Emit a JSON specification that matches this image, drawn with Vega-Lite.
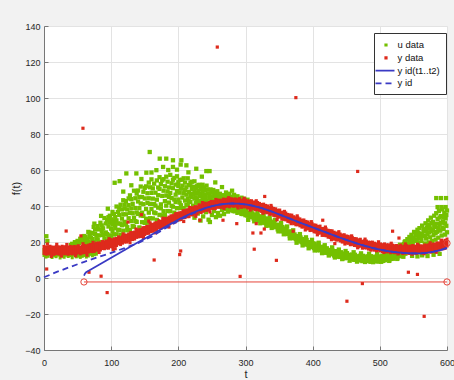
{
"$schema": "https://vega.github.io/schema/vega-lite/v6.json",
"width": 403, "height": 324,
"autosize": {"type": "none"},
"padding": {"left": 44, "top": 26, "right": 7, "bottom": 30},
"background": "#f2f2f2",
"config": {"view": {"stroke": null, "fill": "#ffffff"}, "font": "Liberation Sans"},
"datasets": {
"gc": [
{"t":40,"y":18.3},{"t":42,"y":19.0},{"t":44,"y":18.4},{"t":46,"y":19.9},{"t":48,"y":19.2},{"t":50,"y":20.6},{"t":50,"y":18.8},{"t":52,"y":19.5},{"t":54,"y":21.8},{"t":54,"y":20.2},{"t":56,"y":20.7},{"t":58,"y":22.9},{"t":58,"y":21.0},
{"t":60,"y":18.8},{"t":60,"y":23.3},{"t":62,"y":20.5},{"t":62,"y":22.8},{"t":64,"y":18.5},{"t":64,"y":21.7},{"t":66,"y":25.6},{"t":66,"y":20.3},{"t":68,"y":23.3},{"t":68,"y":25.2},{"t":70,"y":19.6},{"t":70,"y":22.5},{"t":72,"y":25.0},{"t":72,"y":21.6},{"t":74,"y":28.4},{"t":74,"y":19.8},{"t":76,"y":24.5},{"t":76,"y":26.9},{"t":78,"y":21.4},{"t":78,"y":23.5},{"t":80,"y":28.8},{"t":80,"y":21.4},{"t":82,"y":27.0},{"t":82,"y":23.7},{"t":84,"y":30.7},{"t":84,"y":20.0},{"t":86,"y":26.0},{"t":86,"y":29.2},{"t":88,"y":23.9},{"t":88,"y":27.6},{"t":90,"y":33.3},{"t":90,"y":22.0},{"t":92,"y":30.3},{"t":92,"y":25.3},{"t":94,"y":32.2},{"t":94,"y":24.4},{"t":96,"y":28.6},{"t":96,"y":33.8},{"t":96,"y":22.2},{"t":98,"y":30.7},{"t":98,"y":23.7},{"t":98,"y":34.6},
{"t":100,"y":27.4},{"t":100,"y":32.6},{"t":100,"y":22.5},{"t":102,"y":29.7},{"t":102,"y":36.7},{"t":102,"y":26.1},{"t":104,"y":31.7},{"t":104,"y":35.5},{"t":104,"y":24.2},{"t":106,"y":29.9},{"t":106,"y":33.8},{"t":106,"y":27.7},{"t":108,"y":39.7},{"t":108,"y":24.3},{"t":108,"y":32.0},{"t":110,"y":36.7},{"t":110,"y":26.8},{"t":110,"y":30.2},{"t":112,"y":39.0},{"t":112,"y":26.6},{"t":112,"y":35.1},{"t":114,"y":30.3},{"t":114,"y":40.7},{"t":114,"y":24.0},{"t":116,"y":33.0},{"t":116,"y":38.1},{"t":116,"y":29.3},{"t":118,"y":35.4},{"t":118,"y":43.2},{"t":118,"y":26.3},
{"t":120,"y":38.6},{"t":120,"y":31.2},{"t":120,"y":40.7},{"t":122,"y":29.7},{"t":122,"y":35.4},{"t":122,"y":42.7},{"t":124,"y":26.5},{"t":124,"y":38.1},{"t":124,"y":28.2},{"t":126,"y":44.2},{"t":126,"y":33.2},{"t":126,"y":40.5},{"t":128,"y":26.6},{"t":128,"y":36.2},{"t":128,"y":45.9},{"t":130,"y":31.6},{"t":130,"y":38.7},{"t":130,"y":43.8},{"t":132,"y":28.8},{"t":132,"y":36.0},{"t":132,"y":41.2},{"t":134,"y":33.5},{"t":134,"y":48.5},{"t":134,"y":28.5},{"t":136,"y":38.9},{"t":136,"y":44.3},{"t":136,"y":31.6},{"t":138,"y":36.4},{"t":138,"y":46.9},{"t":138,"y":31.2},
{"t":140,"y":42.5},{"t":140,"y":35.6},{"t":140,"y":48.6},{"t":142,"y":28.1},{"t":142,"y":38.8},{"t":142,"y":45.0},{"t":144,"y":34.7},{"t":144,"y":41.4},{"t":144,"y":50.8},{"t":146,"y":31.0},{"t":146,"y":45.0},{"t":146,"y":36.3},{"t":148,"y":47.9},{"t":148,"y":34.5},{"t":148,"y":41.0},{"t":150,"y":50.1},{"t":150,"y":30.6},{"t":150,"y":44.2},{"t":152,"y":32.9},{"t":152,"y":50.9},{"t":152,"y":38.3},{"t":154,"y":47.1},{"t":154,"y":30.7},{"t":154,"y":41.7},{"t":156,"y":53.0},{"t":156,"y":36.3},{"t":156,"y":44.3},{"t":158,"y":50.4},{"t":158,"y":33.2},{"t":158,"y":41.2},
{"t":160,"y":47.3},{"t":160,"y":38.3},{"t":160,"y":54.8},{"t":162,"y":33.1},{"t":162,"y":44.1},{"t":162,"y":49.8},{"t":164,"y":36.4},{"t":164,"y":41.1},{"t":164,"y":52.4},{"t":166,"y":36.0},{"t":166,"y":47.4},{"t":166,"y":40.2},{"t":168,"y":54.2},{"t":168,"y":32.3},{"t":168,"y":43.5},{"t":170,"y":50.3},{"t":170,"y":39.1},{"t":170,"y":46.0},{"t":172,"y":56.0},{"t":172,"y":35.1},{"t":172,"y":49.5},{"t":174,"y":40.9},{"t":174,"y":52.2},{"t":174,"y":38.7},{"t":176,"y":45.6},{"t":176,"y":54.2},{"t":176,"y":34.8},{"t":178,"y":48.5},{"t":178,"y":37.1},{"t":178,"y":54.9},
{"t":180,"y":42.7},{"t":180,"y":51.0},{"t":180,"y":34.9},{"t":182,"y":45.8},{"t":182,"y":56.3},{"t":182,"y":40.2},{"t":184,"y":48.1},{"t":184,"y":53.5},{"t":184,"y":37.2},{"t":186,"y":45.0},{"t":186,"y":50.3},{"t":186,"y":41.9},{"t":188,"y":57.3},{"t":188,"y":37.1},{"t":188,"y":47.2},{"t":190,"y":52.6},{"t":190,"y":40.1},{"t":190,"y":44.4},{"t":192,"y":54.6},{"t":192,"y":39.6},{"t":192,"y":49.9},{"t":194,"y":43.6},{"t":194,"y":55.6},{"t":194,"y":36.3},{"t":196,"y":46.3},{"t":196,"y":51.9},{"t":196,"y":42.2},{"t":198,"y":48.3},{"t":198,"y":56.5},{"t":198,"y":38.8},
{"t":200,"y":51.1},{"t":200,"y":43.6},{"t":200,"y":53.2},{"t":202,"y":41.9},{"t":202,"y":47.4},{"t":202,"y":54.5},{"t":204,"y":38.8},{"t":204,"y":49.6},{"t":204,"y":40.4},{"t":206,"y":54.6},{"t":206,"y":44.7},{"t":206,"y":51.3},{"t":208,"y":38.8},{"t":208,"y":47.1},{"t":208,"y":55.4},{"t":210,"y":43.0},{"t":210,"y":48.8},{"t":210,"y":53.0},{"t":212,"y":40.6},{"t":212,"y":46.3},{"t":212,"y":50.4},{"t":214,"y":44.1},{"t":214,"y":55.4},{"t":214,"y":40.3},{"t":216,"y":47.8},{"t":216,"y":51.6},{"t":216,"y":42.6},{"t":218,"y":45.7},{"t":218,"y":52.9},{"t":218,"y":42.2},
{"t":220,"y":49.5},{"t":220,"y":45.0},{"t":220,"y":53.5},{"t":222,"y":40.1},{"t":222,"y":46.8},{"t":222,"y":50.7},{"t":224,"y":44.1},{"t":224,"y":48.1},{"t":224,"y":53.7},{"t":226,"y":41.8},{"t":226,"y":49.8},{"t":226,"y":44.9},{"t":228,"y":51.0},{"t":228,"y":43.8},{"t":228,"y":47.3},{"t":230,"y":51.7},{"t":230,"y":41.7},{"t":230,"y":48.7},{"t":232,"y":42.8},{"t":232,"y":51.7},{"t":232,"y":45.5},{"t":234,"y":49.5},{"t":234,"y":41.8},{"t":234,"y":46.9},{"t":236,"y":51.8},{"t":236,"y":44.4},{"t":236,"y":47.9},{"t":238,"y":50.3},{"t":238,"y":43.0},{"t":238,"y":46.4},
{"t":240,"y":48.7},{"t":240,"y":45.0},{"t":242,"y":51.3},{"t":242,"y":43.0},{"t":244,"y":47.0},{"t":244,"y":49.1},{"t":246,"y":44.2},{"t":246,"y":45.8},{"t":248,"y":49.2},{"t":248,"y":44.0},{"t":250,"y":47.4},{"t":250,"y":45.3},{"t":252,"y":48.9},{"t":252,"y":43.1},{"t":254,"y":46.0},{"t":254,"y":47.6},{"t":256,"y":44.8},{"t":256,"y":46.4},{"t":258,"y":48.2},{"t":258,"y":44.0},{"t":260,"y":46.6},{"t":260,"y":45.0},{"t":262,"y":46.8},{"t":264,"y":44.5},{"t":266,"y":45.3},{"t":268,"y":46.0},{"t":270,"y":45.2},{"t":271,"y":47.5},{"t":272,"y":44.6},{"t":274,"y":45.5},{"t":276,"y":44.3},{"t":276,"y":46.8},{"t":278,"y":45.0},{"t":280,"y":44.2},{"t":282,"y":44.8},{"t":283,"y":46.2},{"t":286,"y":43.9},{"t":288,"y":45.4},{"t":290,"y":43.6},{"t":294,"y":44.6},{"t":298,"y":44.0},{"t":303,"y":43.5},
{"t":224,"y":33.5},{"t":229,"y":35.8},{"t":233,"y":31.9},{"t":237,"y":34.2},{"t":241,"y":36.6},{"t":245,"y":32.4},{"t":247,"y":31.1},{"t":250,"y":35.0},{"t":253,"y":37.2},{"t":256,"y":33.8},{"t":259,"y":36.1},{"t":262,"y":34.6},{"t":265,"y":37.8},{"t":268,"y":35.5},{"t":271,"y":38.2},{"t":274,"y":36.9},{"t":277,"y":37.6},{"t":281,"y":38.9},{"t":284,"y":37.1},
{"t":157.4,"y":70.0},{"t":172.3,"y":66.3},{"t":182,"y":66.3},{"t":192,"y":65.4},{"t":204.5,"y":65.4},{"t":203.5,"y":63.0},{"t":122.6,"y":58.1},{"t":137.5,"y":58.1},{"t":152.4,"y":58.5},{"t":177.3,"y":61.7},{"t":192,"y":61.7},{"t":212,"y":62.6},{"t":226.7,"y":60.7},{"t":241.7,"y":59.4},{"t":246.5,"y":59.4},{"t":105.2,"y":52.9},{"t":112.6,"y":53.8},{"t":167.3,"y":59.9},{"t":3.5,"y":23.2},{"t":5,"y":20.5},
{"t":130,"y":51.5},{"t":145,"y":55.0},{"t":160,"y":58.6},{"t":185,"y":60.0},{"t":198,"y":60.2},{"t":215,"y":58.7},{"t":235,"y":56.3},{"t":255,"y":53.1},{"t":265,"y":50.5},{"t":280,"y":48.5},{"t":95,"y":38.5},{"t":85,"y":34.5},{"t":75,"y":30.2},{"t":118,"y":48.0},
{"t":300,"y":38.6},{"t":304,"y":32.3},{"t":309,"y":37.5},{"t":313,"y":31.5},{"t":318,"y":36.2},{"t":322,"y":30.4},{"t":327,"y":35.0},{"t":331,"y":29.0},{"t":336,"y":33.6},{"t":339,"y":27.8},{"t":344,"y":32.3},{"t":349,"y":25.9},{"t":353,"y":30.6},{"t":357,"y":24.3},{"t":362,"y":28.6},{"t":366,"y":22.0},{"t":371,"y":26.5},{"t":376,"y":19.6},{"t":381,"y":24.4},{"t":385,"y":18.1},{"t":390,"y":22.6},{"t":394,"y":16.5},{"t":399,"y":21.2},{"t":403,"y":15.3},{"t":409,"y":19.6},{"t":414,"y":13.8},{"t":418,"y":18.2},{"t":424,"y":12.5},{"t":429,"y":17.0},{"t":433,"y":11.4},{"t":439,"y":15.8},{"t":444,"y":10.5},{"t":449,"y":15.0},{"t":455,"y":9.6},{"t":461,"y":14.3},{"t":466,"y":9.1},{"t":472,"y":13.7},{"t":478,"y":8.9},{"t":484,"y":13.5},{"t":490,"y":8.8},{"t":496,"y":13.3},{"t":502,"y":9.0},{"t":508,"y":13.9},{"t":514,"y":9.5},{"t":520,"y":15.0},{"t":526,"y":10.6},{"t":531,"y":16.5},{"t":535,"y":11.8},{"t":530,"y":18.5},{"t":537,"y":20.0},{"t":533,"y":17.6},
{"t":536,"y":18.9},{"t":538,"y":20.4},{"t":540,"y":19.3},{"t":541,"y":21.6},{"t":543,"y":18.7},{"t":544,"y":22.8},{"t":546,"y":20.1},{"t":547,"y":24.0},{"t":549,"y":19.0},{"t":550,"y":22.3},{"t":551,"y":25.6},{"t":553,"y":20.8},{"t":554,"y":23.9},{"t":556,"y":26.8},{"t":557,"y":19.5},{"t":558,"y":22.0},{"t":559,"y":27.7},{"t":561,"y":24.5},{"t":562,"y":20.6},{"t":563,"y":29.1},{"t":565,"y":23.1},{"t":566,"y":26.3},{"t":567,"y":19.2},{"t":568,"y":30.4},{"t":569,"y":21.9},{"t":570,"y":27.8},{"t":571,"y":24.2},{"t":572,"y":32.0},{"t":573,"y":19.8},{"t":574,"y":29.3},{"t":575,"y":22.6},{"t":576,"y":33.5},{"t":577,"y":26.1},{"t":578,"y":20.5},{"t":579,"y":31.2},{"t":580,"y":23.9},{"t":581,"y":34.6},{"t":582,"y":28.4},{"t":583,"y":21.3},{"t":584,"y":36.0},{"t":585,"y":25.7},{"t":586,"y":32.8},{"t":587,"y":22.4},{"t":588,"y":37.2},{"t":589,"y":29.9},{"t":590,"y":26.3},{"t":591,"y":34.4},{"t":592,"y":23.6},{"t":593,"y":38.1},{"t":594,"y":31.5},{"t":595,"y":27.2},{"t":596,"y":36.2},{"t":597,"y":24.1},{"t":598,"y":33.1},{"t":599,"y":29.0},{"t":600,"y":37.5},{"t":600,"y":25.4},{"t":599,"y":35.0},{"t":597,"y":30.4},{"t":595,"y":33.9},{"t":593,"y":28.0},{"t":591,"y":30.7},{"t":589,"y":33.6},{"t":587,"y":27.8},{"t":585,"y":30.2},{"t":583,"y":25.0},{"t":581,"y":29.0},{"t":579,"y":26.7},{"t":577,"y":30.5},{"t":575,"y":27.4},{"t":573,"y":25.3},{"t":571,"y":29.6},{"t":569,"y":25.9},{"t":567,"y":23.4},{"t":565,"y":27.1},{"t":563,"y":24.7},{"t":561,"y":22.3},{"t":559,"y":23.9},{"t":557,"y":25.0},{"t":555,"y":21.3},{"t":553,"y":23.5},{"t":551,"y":20.7},{"t":549,"y":21.8},{"t":547,"y":18.6},{"t":545,"y":20.5},
{"t":584,"y":44.4},{"t":591,"y":44.4},{"t":598.5,"y":44.4},{"t":586,"y":39.4},{"t":592,"y":39.4},{"t":598,"y":39.4},{"t":548,"y":12.3},{"t":556,"y":12.0},{"t":563,"y":12.6},{"t":571,"y":12.2},{"t":580,"y":12.9},{"t":589,"y":13.4}
],
"gb": [
{"t":0,"y":14.2},{"t":3,"y":13.3},{"t":6,"y":13.7},{"t":9,"y":14.6},{"t":12,"y":13.0},{"t":15,"y":14.0},{"t":18,"y":13.5},{"t":21,"y":14.4},{"t":24,"y":12.8},{"t":27,"y":13.9},{"t":30,"y":13.2},{"t":33,"y":14.3},{"t":36,"y":13.6},{"t":39,"y":14.1},{"t":42,"y":12.9},{"t":45,"y":14.5},{"t":48,"y":13.4},{"t":51,"y":13.8},{"t":54,"y":13.1},{"t":57,"y":13.7},{"t":60,"y":14.2},{"t":63,"y":13.3},{"t":66,"y":13.9},{"t":69,"y":14.8},{"t":72,"y":14.0},{"t":75,"y":14.6},{"t":78,"y":14.9},
{"t":263,"y":40.9},{"t":266,"y":40.2},{"t":269,"y":40.1},{"t":272,"y":40.1},{"t":275,"y":39.1},{"t":278,"y":39.1},{"t":281,"y":38.5},{"t":284,"y":38.5},{"t":287,"y":37.5},{"t":290,"y":37.6},{"t":293,"y":36.9},{"t":296,"y":36.8},{"t":299,"y":36.2},{"t":302,"y":35.9},{"t":305,"y":35.0},{"t":308,"y":35.2},{"t":311,"y":34.4},{"t":314,"y":34.0},{"t":317,"y":33.4},{"t":320,"y":33.1},{"t":323,"y":32.9},{"t":326,"y":32.0},{"t":329,"y":31.8},{"t":332,"y":31.7},{"t":335,"y":30.5},{"t":338,"y":30.4},{"t":341,"y":29.7},{"t":344,"y":29.5},{"t":347,"y":28.3},{"t":350,"y":28.2},{"t":353,"y":27.3},{"t":356,"y":27.0},{"t":359,"y":26.2},{"t":362,"y":25.7},{"t":365,"y":24.6},{"t":368,"y":24.5},{"t":371,"y":23.4},{"t":374,"y":22.9},{"t":377,"y":22.0},{"t":380,"y":21.6},{"t":383,"y":21.2},{"t":386,"y":20.3},{"t":389,"y":19.9},{"t":392,"y":19.8},{"t":395,"y":18.6},{"t":398,"y":18.5},{"t":401,"y":17.9},{"t":404,"y":17.8},{"t":407,"y":16.7},{"t":410,"y":16.7},{"t":413,"y":16.0},{"t":416,"y":16.0},{"t":419,"y":15.3},{"t":422,"y":15.2},{"t":425,"y":14.3},{"t":428,"y":14.5},{"t":431,"y":13.8},{"t":434,"y":13.6},{"t":437,"y":13.1},{"t":440,"y":13.0},{"t":443,"y":13.0},{"t":446,"y":12.3},{"t":449,"y":12.3},{"t":452,"y":12.5},{"t":455,"y":11.6},{"t":458,"y":11.7},{"t":461,"y":11.4},{"t":464,"y":11.6},{"t":467,"y":10.8},{"t":470,"y":11.1},{"t":473,"y":10.7},{"t":476,"y":11.0},{"t":479,"y":10.6},{"t":482,"y":10.8},{"t":485,"y":10.3},{"t":488,"y":10.8},{"t":491,"y":10.4},{"t":494,"y":10.6},{"t":497,"y":10.4},{"t":500,"y":10.7},{"t":503,"y":11.1},{"t":506,"y":10.8},{"t":509,"y":11.2},{"t":512,"y":11.8},{"t":515,"y":11.3},{"t":518,"y":11.9},{"t":521,"y":12.0},{"t":524,"y":12.8},{"t":527,"y":12.5},{"t":530,"y":13.4},{"t":533,"y":13.6},{"t":536,"y":14.5},{"t":539,"y":14.8}
],
"rb": [
{"t":0,"y":15.6},{"t":3,"y":15.2},{"t":6,"y":15.4},{"t":9,"y":15.7},{"t":12,"y":15.3},{"t":15,"y":15.1},{"t":18,"y":15.6},{"t":21,"y":15.4},{"t":24,"y":15.2},{"t":27,"y":15.7},{"t":30,"y":15.4},{"t":33,"y":15.5},{"t":36,"y":15.1},{"t":39,"y":15.6},{"t":42,"y":15.3},{"t":45,"y":15.6},{"t":48,"y":15.4},{"t":51,"y":16.0},{"t":54,"y":15.3},{"t":57,"y":15.8},
{"t":60,"y":16.1},{"t":63,"y":15.9},{"t":66,"y":16.3},{"t":69,"y":16.7},{"t":72,"y":16.6},{"t":75,"y":16.7},{"t":78,"y":17.4},{"t":81,"y":17.5},{"t":84,"y":17.5},{"t":87,"y":18.3},{"t":90,"y":18.2},{"t":93,"y":18.6},{"t":96,"y":18.5},{"t":99,"y":19.3},{"t":102,"y":19.3},{"t":105,"y":19.9},{"t":108,"y":20.0},{"t":111,"y":20.9},{"t":114,"y":20.5},{"t":117,"y":21.3},
{"t":120,"y":21.9},{"t":123,"y":21.9},{"t":126,"y":22.5},{"t":129,"y":23.3},{"t":132,"y":23.3},{"t":135,"y":23.6},{"t":138,"y":24.5},{"t":141,"y":24.8},{"t":144,"y":25.0},{"t":147,"y":26.0},{"t":150,"y":26.1},{"t":153,"y":26.7},{"t":156,"y":26.8},{"t":159,"y":27.7},{"t":162,"y":27.9},{"t":165,"y":28.6},{"t":168,"y":28.8},{"t":171,"y":29.9},{"t":174,"y":29.5},{"t":177,"y":30.4},
{"t":180,"y":31.1},{"t":183,"y":31.2},{"t":186,"y":31.9},{"t":189,"y":32.6},{"t":192,"y":32.7},{"t":195,"y":33.0},{"t":198,"y":33.9},{"t":201,"y":34.2},{"t":204,"y":34.4},{"t":207,"y":35.4},{"t":210,"y":35.5},{"t":213,"y":36.0},{"t":216,"y":36.0},{"t":219,"y":37.0},{"t":222,"y":37.1},{"t":225,"y":37.7},{"t":228,"y":37.7},{"t":231,"y":38.7},{"t":234,"y":38.3},{"t":237,"y":39.0},
{"t":240,"y":39.6},{"t":243,"y":39.5},{"t":246,"y":40.0},{"t":249,"y":40.6},{"t":252,"y":40.5},{"t":255,"y":40.5},{"t":258,"y":41.2},{"t":261,"y":41.3},{"t":264,"y":41.2},{"t":267,"y":41.9},{"t":270,"y":41.7},{"t":273,"y":41.9},{"t":276,"y":41.5},{"t":279,"y":42.1},{"t":282,"y":41.8},{"t":285,"y":42.0},{"t":288,"y":41.6},{"t":291,"y":42.2},{"t":294,"y":41.2},{"t":297,"y":41.5},
{"t":300,"y":41.5},{"t":303,"y":40.9},{"t":306,"y":40.9},{"t":309,"y":41.0},{"t":312,"y":40.3},{"t":315,"y":39.8},{"t":318,"y":40.0},{"t":321,"y":39.5},{"t":324,"y":38.9},{"t":327,"y":39.1},{"t":330,"y":38.4},{"t":333,"y":38.1},{"t":336,"y":37.3},{"t":339,"y":37.4},{"t":342,"y":36.7},{"t":345,"y":36.5},{"t":348,"y":35.7},{"t":351,"y":35.8},{"t":354,"y":34.6},{"t":357,"y":34.5},
{"t":360,"y":34.2},{"t":363,"y":33.4},{"t":366,"y":33.1},{"t":369,"y":33.0},{"t":372,"y":32.1},{"t":375,"y":31.5},{"t":378,"y":31.5},{"t":381,"y":30.9},{"t":384,"y":30.2},{"t":387,"y":30.3},{"t":390,"y":29.5},{"t":393,"y":29.2},{"t":396,"y":28.3},{"t":399,"y":28.4},{"t":402,"y":27.6},{"t":405,"y":27.4},{"t":408,"y":26.7},{"t":411,"y":26.9},{"t":414,"y":25.6},{"t":417,"y":25.6},
{"t":420,"y":25.4},{"t":423,"y":24.6},{"t":426,"y":24.4},{"t":429,"y":24.3},{"t":432,"y":23.5},{"t":435,"y":23.0},{"t":438,"y":23.1},{"t":441,"y":22.5},{"t":444,"y":21.9},{"t":447,"y":22.1},{"t":450,"y":21.4},{"t":453,"y":21.2},{"t":456,"y":20.4},{"t":459,"y":20.6},{"t":462,"y":20.0},{"t":465,"y":19.9},{"t":468,"y":19.3},{"t":471,"y":19.6},{"t":474,"y":18.5},{"t":477,"y":18.7},
{"t":480,"y":18.6},{"t":483,"y":18.0},{"t":486,"y":17.9},{"t":489,"y":18.0},{"t":492,"y":17.4},{"t":495,"y":17.0},{"t":498,"y":17.3},{"t":501,"y":17.0},{"t":504,"y":16.6},{"t":507,"y":17.0},{"t":510,"y":16.5},{"t":513,"y":16.5},{"t":516,"y":16.0},{"t":519,"y":16.3},{"t":522,"y":16.0},{"t":525,"y":16.1},{"t":528,"y":15.7},{"t":531,"y":16.3},{"t":534,"y":15.5},{"t":537,"y":15.8},
{"t":540,"y":16.0},{"t":543,"y":15.6},{"t":546,"y":15.8},{"t":549,"y":16.1},{"t":552,"y":15.7},{"t":555,"y":15.6},{"t":558,"y":16.1},{"t":561,"y":15.9},{"t":564,"y":15.8},{"t":567,"y":16.4},{"t":570,"y":16.2},{"t":573,"y":16.5},{"t":576,"y":16.3},{"t":579,"y":16.9},{"t":582,"y":16.9},{"t":585,"y":17.5},{"t":588,"y":17.5},{"t":591,"y":18.5},{"t":594,"y":18.1},{"t":597,"y":19.0},{"t":600,"y":19.7}
],
"rs": [
{"t":5,"y":18.9},{"t":11,"y":12.0},{"t":19,"y":18.7},{"t":26,"y":12.2},{"t":34,"y":18.6},{"t":47,"y":12.4},{"t":58,"y":19.0},{"t":64,"y":12.7},{"t":73,"y":19.8},{"t":82,"y":14.2},{"t":97,"y":21.8},{"t":106,"y":16.3},{"t":103,"y":15.8},{"t":118,"y":24.5},{"t":128,"y":19.6},{"t":137,"y":27.2},{"t":148,"y":22.5},{"t":158,"y":30.6},{"t":166,"y":25.1},{"t":177,"y":33.2},{"t":186,"y":28.3},{"t":196,"y":35.7},{"t":208,"y":31.4},{"t":217,"y":39.2},{"t":226,"y":34.3},{"t":236,"y":41.9},{"t":247,"y":36.7},{"t":256,"y":43.6},{"t":268,"y":38.7},{"t":275,"y":44.6},{"t":289,"y":38.9},{"t":298,"y":44.3},{"t":307,"y":37.8},{"t":316,"y":42.9},{"t":326,"y":36.0},{"t":338,"y":40.3},{"t":347,"y":32.4},{"t":358,"y":37.0},{"t":368,"y":30.2},{"t":377,"y":34.5},{"t":389,"y":26.7},{"t":398,"y":31.3},{"t":407,"y":24.0},{"t":419,"y":28.3},{"t":428,"y":21.3},{"t":439,"y":25.7},{"t":448,"y":18.9},{"t":458,"y":23.4},{"t":467,"y":16.8},{"t":478,"y":21.6},{"t":487,"y":15.5},{"t":498,"y":20.1},{"t":506,"y":14.2},{"t":517,"y":19.3},{"t":527,"y":13.4},{"t":538,"y":18.9},{"t":548,"y":13.2},{"t":556,"y":18.7},{"t":566,"y":13.5},{"t":575,"y":19.5},{"t":584,"y":14.3},{"t":592,"y":21.0},{"t":597,"y":16.5},
{"t":58,"y":83.2},{"t":258,"y":128.3},{"t":375,"y":100.2},{"t":467,"y":59.2},{"t":33,"y":26.1},{"t":4,"y":5.0},{"t":67,"y":3.2},{"t":85,"y":1.0},{"t":94,"y":-8.1},{"t":164,"y":10.0},{"t":202,"y":13.0},{"t":203.5,"y":15.0},{"t":55,"y":23.4},{"t":125,"y":31.1},{"t":145,"y":35.2},{"t":156,"y":31.6},{"t":266.5,"y":32.1},{"t":232,"y":32.1},{"t":287,"y":30.2},{"t":316,"y":30.2},{"t":311,"y":25.0},{"t":323,"y":25.0},{"t":328,"y":27.2},{"t":313,"y":16.0},{"t":328.6,"y":45.3},{"t":346,"y":9.8},{"t":292,"y":0.9},{"t":451,"y":-12.9},{"t":474,"y":-3.1},{"t":519,"y":26.0},{"t":528.5,"y":22.2},{"t":542.5,"y":3.2},{"t":556,"y":2.0},{"t":566,"y":-21.3},{"t":371,"y":26.0},{"t":415,"y":32.1},{"t":433,"y":19.1}
],
"fit": [
{"t":59.6,"y":1.3},{"t":61,"y":2.5},{"t":63,"y":3.3},{"t":80,"y":6.9},{"t":100,"y":11.2},{"t":120,"y":15.5},{"t":140,"y":19.8},{"t":160,"y":24.0},{"t":180,"y":28.3},{"t":200,"y":32.4},{"t":210,"y":34.3},{"t":220,"y":36.0},{"t":230,"y":37.5},{"t":240,"y":38.8},{"t":250,"y":39.9},{"t":260,"y":40.7},{"t":270,"y":41.2},{"t":280,"y":41.4},{"t":290,"y":41.3},{"t":300,"y":40.9},{"t":310,"y":40.2},{"t":320,"y":39.3},{"t":330,"y":38.1},{"t":340,"y":36.8},{"t":350,"y":35.3},{"t":360,"y":33.9},{"t":370,"y":32.4},{"t":380,"y":30.9},{"t":390,"y":29.5},{"t":400,"y":28.1},{"t":410,"y":26.7},{"t":420,"y":25.3},{"t":430,"y":23.9},{"t":440,"y":22.5},{"t":450,"y":21.2},{"t":460,"y":19.9},{"t":470,"y":18.7},{"t":480,"y":17.6},{"t":490,"y":16.6},{"t":500,"y":15.8},{"t":510,"y":15.1},{"t":520,"y":14.5},{"t":530,"y":14.1},{"t":540,"y":13.8},{"t":550,"y":13.7},{"t":560,"y":13.7},{"t":570,"y":14.0},{"t":580,"y":14.6},{"t":590,"y":15.5},{"t":600,"y":16.7}
],
"sim": [
{"t":0,"y":0.4},{"t":20,"y":3.5},{"t":40,"y":6.3},{"t":60,"y":9.0},{"t":80,"y":11.5},{"t":100,"y":14.0},{"t":120,"y":16.6},{"t":140,"y":19.4},{"t":160,"y":23.0},{"t":180,"y":27.5},{"t":200,"y":31.8},{"t":220,"y":35.6},{"t":240,"y":38.8},{"t":250,"y":39.9},{"t":260,"y":40.7},{"t":270,"y":41.2},{"t":280,"y":41.4},{"t":290,"y":41.3},{"t":300,"y":40.9},{"t":310,"y":40.2},{"t":320,"y":39.3},{"t":330,"y":38.1},{"t":340,"y":36.8},{"t":350,"y":35.3},{"t":360,"y":33.9},{"t":370,"y":32.4},{"t":380,"y":30.9},{"t":390,"y":29.5},{"t":400,"y":28.1},{"t":410,"y":26.7},{"t":420,"y":25.3},{"t":430,"y":23.9},{"t":440,"y":22.5},{"t":450,"y":21.2},{"t":460,"y":19.9},{"t":470,"y":18.7},{"t":480,"y":17.6},{"t":490,"y":16.6},{"t":500,"y":15.8},{"t":510,"y":15.1},{"t":520,"y":14.5},{"t":530,"y":14.1},{"t":540,"y":13.8},{"t":550,"y":13.7},{"t":560,"y":13.7},{"t":570,"y":14.0},{"t":580,"y":14.6},{"t":590,"y":15.5},{"t":600,"y":16.7}
],
"ref": [{"t":59.5,"y":-2.2},{"t":600,"y":-2.2}],
"ends": [{"t":59.5,"y":-2.2},{"t":600,"y":-2.2},{"t":600,"y":19.3}]
},
"encoding": {
"x": {"field": "t", "type": "quantitative", "scale": {"domain": [0, 600], "nice": false, "zero": false},
 "axis": {"title": "t", "values": [0,100,200,300,400,500,600], "grid": true, "gridColor": "#e3e3e3", "domainColor": "#777777", "tickColor": "#777777", "tickSize": -4, "labelPadding": 12, "labelFontSize": 9, "labelColor": "#262626", "titleFontSize": 11, "titleFontWeight": "normal", "titleColor": "#262626", "titlePadding": 1, "labelFlush": false, "labelOverlap": false}},
"y": {"field": "y", "type": "quantitative", "scale": {"domain": [-40, 140], "nice": false, "zero": false},
 "axis": {"title": "f(t)", "values": [-40,-20,0,20,40,60,80,100,120,140], "grid": true, "gridColor": "#e3e3e3", "domainColor": "#777777", "tickColor": "#777777", "tickSize": -4, "labelPadding": 8, "labelFontSize": 9, "labelColor": "#262626", "titleFontSize": 11, "titleFontWeight": "normal", "titleColor": "#262626", "titlePadding": 3, "labelFlush": false, "labelOverlap": false}}
},
"layer": [
{"data": {"name": "gc"}, "mark": {"type": "point", "filled": true, "size": 943, "opacity": 1, "strokeWidth": 0},
 "encoding": {
  "color": {"datum": "u data", "type": "nominal",
   "scale": {"domain": ["u data", "y data", "y id(t1..t2)", "y id"], "range": ["#74c000", "#de2a1c", "#3a3ac4", "#3a3ac4"]},
   "legend": {"title": null, "orient": "none", "legendX": 330, "legendY": 7, "padding": 6, "strokeColor": "#333333", "fillColor": "#ffffff", "cornerRadius": 0,
    "labelFont": "Liberation Sans", "labelFontSize": 9.5, "labelColor": "#111111", "symbolSize": 100, "symbolStrokeWidth": 1.8, "labelOffset": 5.5, "rowPadding": 1.8}},
  "shape": {"datum": "u data", "type": "nominal",
   "scale": {"domain": ["u data", "y data", "y id(t1..t2)", "y id"], "range": ["M-0.14,-0.14L0.14,-0.14L0.14,0.14L-0.14,0.14Z", "M-0.14,-0.14L0.14,-0.14L0.14,0.14L-0.14,0.14Z", "M-2.1,0L1.7,0", "M-2.1,0L1.7,0"]}}}},
{"data": {"name": "gb"}, "mark": {"type": "tick", "orient": "vertical", "thickness": 3, "size": 9, "opacity": 1},
 "encoding": {"color": {"datum": "u data", "type": "nominal"}}},
{"data": {"name": "rb"}, "mark": {"type": "tick", "orient": "vertical", "thickness": 3, "size": 10, "opacity": 1},
 "encoding": {"color": {"datum": "y data", "type": "nominal"}}},
{"data": {"name": "rs"}, "mark": {"type": "point", "filled": true, "size": 522, "opacity": 1, "strokeWidth": 0},
 "encoding": {"color": {"datum": "y data", "type": "nominal"}, "shape": {"datum": "y data", "type": "nominal"}}},
{"data": {"name": "sim"}, "mark": {"type": "line", "strokeWidth": 1.8},
 "encoding": {"color": {"datum": "y id", "type": "nominal"},
  "strokeDash": {"datum": "y id", "type": "nominal", "scale": {"domain": ["u data", "y data", "y id(t1..t2)", "y id"], "range": [[1, 0], [1, 0], [1, 0], [6, 4]]}}}},
{"data": {"name": "fit"}, "mark": {"type": "line", "strokeWidth": 1.8},
 "encoding": {"color": {"datum": "y id(t1..t2)", "type": "nominal"}, "strokeDash": {"datum": "y id(t1..t2)", "type": "nominal"}}},
{"data": {"name": "ref"}, "mark": {"type": "line", "color": "#e5453a", "strokeWidth": 1}, "encoding": {}},
{"data": {"name": "ends"}, "mark": {"type": "point", "shape": "circle", "filled": false, "size": 40, "color": "#e5453a", "strokeWidth": 1, "opacity": 1}, "encoding": {}}
]
}
